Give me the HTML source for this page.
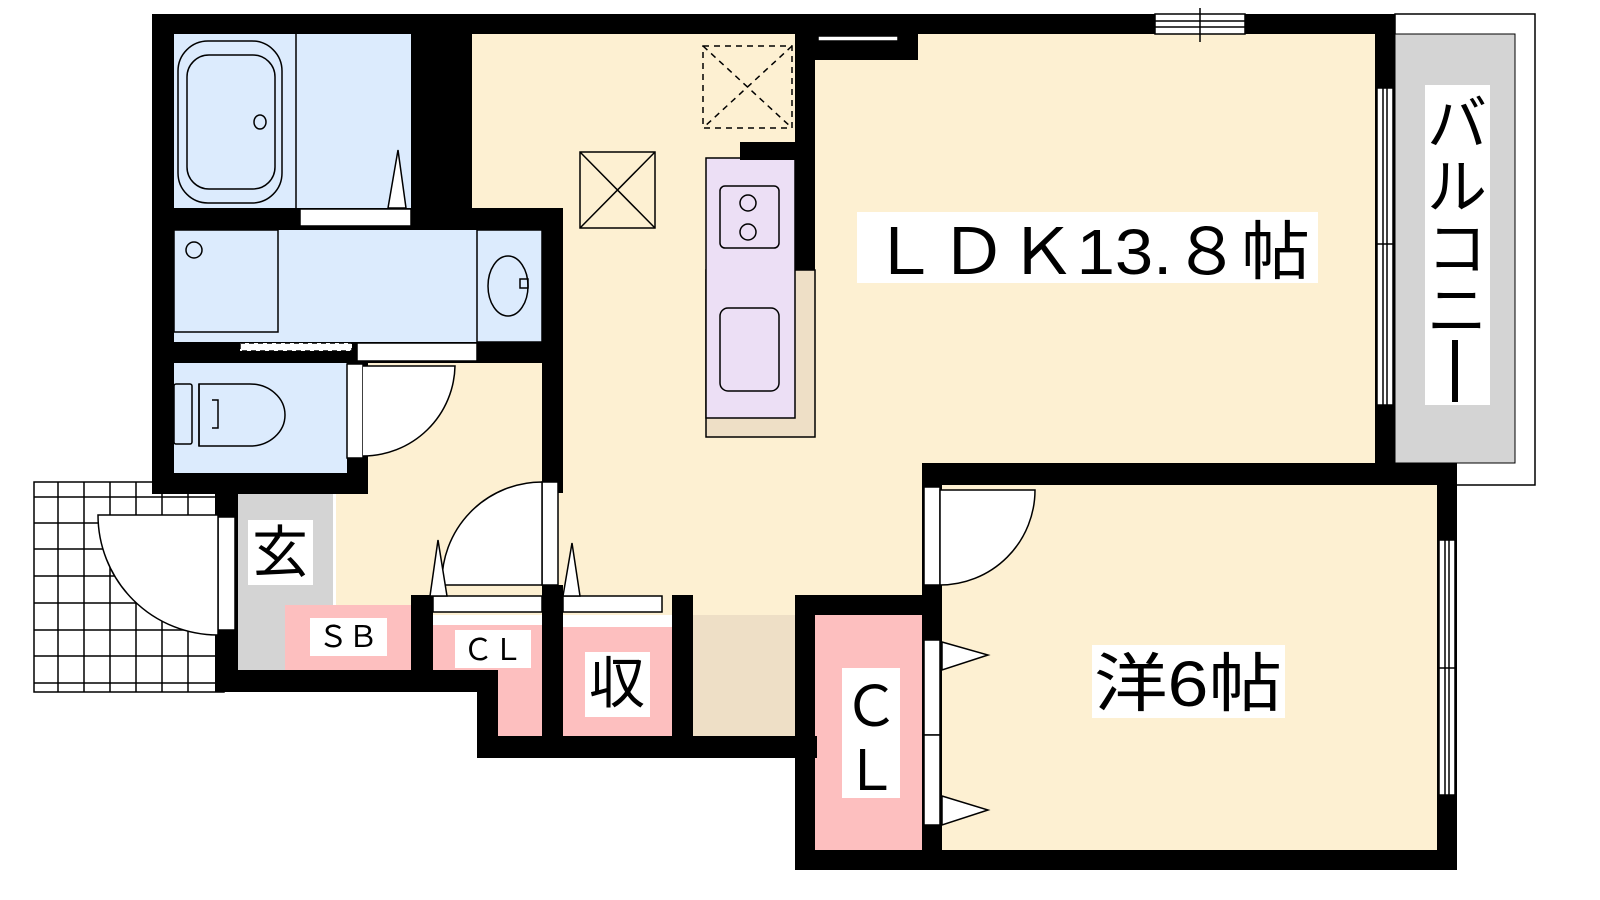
<!DOCTYPE html>
<html><head><meta charset="utf-8"><style>
html,body{margin:0;padding:0;background:#fff;width:1600px;height:900px;overflow:hidden}
svg{display:block}
text{font-family:"Liberation Sans","Noto Sans CJK JP",sans-serif;fill:#000}
</style></head><body>
<svg width="1600" height="900" viewBox="0 0 1600 900" xmlns="http://www.w3.org/2000/svg">
<!-- balcony -->
<rect x="1395" y="14" width="140" height="471" fill="#fff" stroke="#000" stroke-width="1.5"/>
<rect x="1395" y="34" width="120" height="429" fill="#d4d4d4" stroke="#000" stroke-width="1"/>
<!-- entrance tiles -->
<g stroke="#000" stroke-width="1.5" fill="#fff">
<rect x="34" y="482" width="190" height="210"/>
<path d="M34 523H224M34 549H224M34 576H224M34 603H224M34 630H224M34 656H224M34 683H224M34 497H224M58 482V692M84 482V692M110 482V692M136 482V692M162 482V692M188 482V692" fill="none"/>
</g>
<!-- fills -->
<g stroke="none">
<rect x="468" y="34" width="907" height="429" fill="#fdf0d2"/>
<rect x="336" y="363" width="600" height="252" fill="#fdf0d2"/>
<rect x="942" y="485" width="495" height="365" fill="#fdf0d2"/>
<rect x="174" y="34" width="237" height="174" fill="#dcebfd"/>
<rect x="174" y="230" width="368" height="112" fill="#dcebfd"/>
<rect x="174" y="363" width="173" height="110" fill="#dcebfd"/>
<rect x="238" y="494" width="95" height="176" fill="#d4d4d4"/>
<rect x="285" y="605" width="126" height="65" fill="#fdbfbf"/>
<rect x="433" y="625" width="109" height="45" fill="#fdbfbf"/>
<rect x="498" y="665" width="44" height="71" fill="#fdbfbf"/>
<rect x="563" y="627" width="109" height="109" fill="#fdbfbf"/>
<rect x="693" y="615" width="102" height="121" fill="#eedfc6"/>
<rect x="815" y="615" width="107" height="235" fill="#fdbfbf"/>
</g>
<!-- kitchen -->
<rect x="706" y="270" width="109" height="167" fill="#eedfc6" stroke="#000" stroke-width="1.5"/>
<rect x="706" y="158" width="89" height="260" fill="#ecdff5" stroke="#000" stroke-width="1.5"/>
<rect x="720" y="186" width="59" height="62" rx="5" fill="none" stroke="#000" stroke-width="1.5"/>
<circle cx="748" cy="203" r="8" fill="none" stroke="#000" stroke-width="1.5"/>
<circle cx="748" cy="232" r="8" fill="none" stroke="#000" stroke-width="1.5"/>
<rect x="720" y="308" width="59" height="83" rx="8" fill="none" stroke="#000" stroke-width="1.5"/>
<!-- dashed and X boxes -->
<g fill="none" stroke="#000" stroke-width="1.5">
<rect x="703" y="46" width="89" height="82" stroke-dasharray="6,5"/>
<path d="M703 46L792 128M792 46L703 128" stroke-dasharray="6,5"/>
<rect x="580" y="152" width="75" height="76"/>
<path d="M580 152L655 228M655 152L580 228"/>
</g>
<!-- bath fixtures -->
<g fill="none" stroke="#000" stroke-width="1.5">
<rect x="178" y="41" width="104" height="162" rx="30"/>
<rect x="187" y="55" width="88" height="134" rx="22"/>
<ellipse cx="260" cy="122" rx="6" ry="7"/>
<line x1="296" y1="34" x2="296" y2="208"/>
<rect x="174" y="230" width="104" height="102"/>
<circle cx="194" cy="250" r="8"/>
<rect x="477" y="230" width="65" height="112"/>
<ellipse cx="508" cy="286" rx="20" ry="30"/>
<rect x="520" y="279" width="8" height="9"/>
<rect x="174" y="384" width="18" height="60" rx="2"/>
<path d="M199 384H250a35 31 0 0 1 0 62H199Z"/>
<path d="M199 384V446M212 400H218V428H212"/>
</g>
<!-- walls -->
<g fill="#000">
<rect x="152" y="14" width="1243" height="20"/>
<rect x="152" y="14" width="22" height="480"/>
<rect x="152" y="473" width="216" height="21"/>
<rect x="411" y="34" width="61" height="176"/>
<rect x="174" y="208" width="389" height="22"/>
<rect x="542" y="208" width="21" height="285"/>
<rect x="174" y="342" width="389" height="21"/>
<rect x="347" y="363" width="21" height="131"/>
<rect x="215" y="494" width="23" height="198"/>
<rect x="215" y="670" width="283" height="22"/>
<rect x="411" y="595" width="22" height="97"/>
<rect x="477" y="670" width="21" height="88"/>
<rect x="477" y="736" width="340" height="22"/>
<rect x="542" y="585" width="21" height="173"/>
<rect x="672" y="595" width="21" height="163"/>
<rect x="795" y="34" width="20" height="236"/>
<rect x="795" y="34" width="123" height="26"/>
<rect x="740" y="142" width="55" height="18"/>
<rect x="1375" y="14" width="20" height="471"/>
<rect x="922" y="463" width="535" height="22"/>
<rect x="1437" y="463" width="20" height="407"/>
<rect x="795" y="595" width="147" height="20"/>
<rect x="795" y="595" width="20" height="275"/>
<rect x="922" y="463" width="20" height="407"/>
<rect x="795" y="850" width="662" height="20"/>
</g>
<!-- doors / windows white strips -->
<g fill="#fff" stroke="#000" stroke-width="1.5">
<rect x="300" y="209" width="111" height="17"/>
<rect x="240" y="343" width="112" height="8" stroke-dasharray="5,4"/>
<rect x="357" y="343" width="120" height="18"/>
<rect x="347" y="364" width="16" height="94"/>
<rect x="542" y="482" width="16" height="103"/>
<rect x="218" y="517" width="17" height="113"/>
<rect x="433" y="596" width="109" height="16"/>
<rect x="563" y="596" width="99" height="16"/>
<rect x="924" y="487" width="16" height="98"/>
<rect x="924" y="640" width="16" height="95"/>
<rect x="924" y="735" width="16" height="90"/>
<rect x="1155" y="14" width="90" height="20"/>
<rect x="1377" y="88" width="16" height="317"/>
<rect x="1439" y="540" width="16" height="255"/>
<rect x="818" y="36" width="80" height="5"/>
</g>
<g fill="none" stroke="#000" stroke-width="1.5">
<path d="M1155 21H1245M1155 27H1245M1200 8V42"/>
<path d="M1383 88V405M1387 88V405M1377 244H1393"/>
<path d="M1445 540V795M1449 540V795M1439 668H1455"/>
<!-- arcs -->
<path d="M363 366H455A92 92 0 0 1 363 456" fill="#fff"/>
<path d="M542 482A100 100 0 0 0 442 585H542Z" fill="#fff"/>
<path d="M940 490H1035A95 95 0 0 1 940 585Z" fill="#fff"/>
<path d="M98 515H218V635A120 120 0 0 1 98 515Z" fill="#fff"/>
<!-- triangles -->
<path d="M388 208L398 150L406 208Z" fill="#fff"/>
<path d="M430 596L438 540L447 596Z" fill="#fff"/>
<path d="M563 596L572 543L580 596Z" fill="#fff"/>
<path d="M942 642L988 655L942 670Z" fill="#fff"/>
<path d="M942 796L988 810L942 825Z" fill="#fff"/>
</g>
<!-- labels -->
<rect x="857" y="212" width="461" height="71" fill="#fff"/>
<text x="870" y="274" font-size="64" textLength="440" lengthAdjust="spacingAndGlyphs">ＬＤＫ13.８帖</text>
<rect x="1092" y="645" width="193" height="73" fill="#fff"/>
<text x="1094" y="706" font-size="64" textLength="188" lengthAdjust="spacingAndGlyphs">洋6帖</text>
<rect x="1425" y="85" width="65" height="320" fill="#fff"/>
<text x="1457" y="145" font-size="60" text-anchor="middle">バ</text>
<text x="1457" y="208" font-size="60" text-anchor="middle">ル</text>
<text x="1457" y="270" font-size="60" text-anchor="middle">コ</text>
<text x="1457" y="332" font-size="60" text-anchor="middle">ニ</text>
<rect x="1452" y="340" width="6" height="62" fill="#000"/>
<rect x="842" y="668" width="58" height="130" fill="#fff"/>
<text x="871" y="726" font-size="56" text-anchor="middle">Ｃ</text>
<text x="871" y="790" font-size="56" text-anchor="middle">Ｌ</text>
<rect x="248" y="520" width="65" height="65" fill="#fff"/>
<text x="280" y="572" font-size="56" text-anchor="middle">玄</text>
<rect x="310" y="618" width="77" height="38" fill="#fff"/>
<text x="348" y="647" font-size="30" text-anchor="middle">ＳＢ</text>
<rect x="455" y="630" width="76" height="38" fill="#fff"/>
<text x="493" y="660" font-size="30" text-anchor="middle">ＣＬ</text>
<rect x="585" y="652" width="65" height="65" fill="#fff"/>
<text x="617" y="703" font-size="56" text-anchor="middle">収</text>
</svg>
</body></html>
